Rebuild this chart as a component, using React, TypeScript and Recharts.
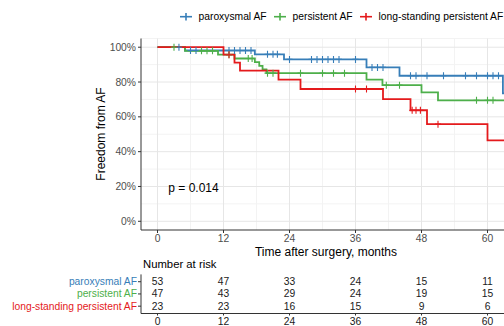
import React from "react";
import { ComposedChart, Line, Scatter, XAxis, YAxis, CartesianGrid } from "recharts";

const groups = ["paroxysmal AF", "persistent AF", "long-standing persistent AF"];
const colors = ["#377EB8", "#4DAF4A", "#E41A1C"];

// Kaplan-Meier steps (months, % free from AF)
const parTimes = [0, 5, 17.7, 23, 38, 44, 62.8, 63];
const parSurv = [100, 98.1, 95.9, 93.0, 88.4, 83.6, 73.5, 73.5];
const parCensored = [3.9, 6, 7, 13, 14, 15, 16, 17, 20, 21, 21.8, 24, 28, 29, 30, 31, 32, 33, 36, 39, 40, 41, 46, 47, 49, 52, 56, 58, 60, 61, 62];

const perTimes = [0, 5, 11, 14, 17.7, 18.5, 19.1, 19.8, 38, 40.9, 48, 51, 63];
const perSurv = [100, 97.9, 95.7, 93.5, 91.4, 89.3, 87.2, 85.1, 81.4, 78.2, 74.0, 69.5, 69.5];
const perCensored = [3, 8, 9, 10, 13, 16.5, 17.2, 20, 21, 26, 30, 32, 34, 41.6, 44, 58, 60, 61];

const lspTimes = [0, 12, 14, 15, 22, 26, 41, 46, 49, 60, 63];
const lspSurv = [100, 95.7, 91.1, 86.5, 81.4, 76.0, 70.2, 63.8, 55.8, 46.5, 46.5];
const lspCensored = [13, 36, 38, 46.3, 47, 47.8, 51];

// number at risk
const riskTimes = [0, 12, 24, 36, 48, 60];
const parRisk = [53, 47, 33, 24, 15, 11];
const perRisk = [47, 43, 29, 24, 19, 15];
const lspRisk = [23, 23, 16, 15, 9, 6];

const xTicks = [0, 12, 24, 36, 48, 60];
const yTicks = [0, 20, 40, 60, 80, 100];
const pValue = "p = 0.014";

const FONT = "'Liberation Sans', Arial, Helvetica, sans-serif";
const AXIS = "#333333";
const TICK_TXT = "#4d4d4d";

const stepAt = (times: number[], surv: number[], t: number) => {
  let v = surv[0];
  for (let i = 0; i < times.length; i++) if (times[i] <= t) v = surv[i];
  return v;
};
const km = (times: number[], surv: number[]) => times.map((t, i) => ({ t, s: surv[i] }));
const cens = (times: number[], surv: number[], c: number[]) =>
  c.map((t) => ({ t, s: stepAt(times, surv, t) }));

const series = [
  { name: groups[0], color: colors[0], line: km(parTimes, parSurv), marks: cens(parTimes, parSurv, parCensored) },
  { name: groups[1], color: colors[1], line: km(perTimes, perSurv), marks: cens(perTimes, perSurv, perCensored) },
  { name: groups[2], color: colors[2], line: km(lspTimes, lspSurv), marks: cens(lspTimes, lspSurv, lspCensored) },
];

const riskRows = [parRisk, perRisk, lspRisk];
const riskData = riskRows.flatMap((row, r) => row.map((n, i) => ({ t: riskTimes[i], row: r + 1, n })));

const plus = (color: string) => (props: any) => {
  const { cx, cy } = props;
  if (cx == null || cy == null) return <g />;
  return (
    <g stroke={color} strokeWidth={1.1}>
      <line x1={cx} x2={cx} y1={cy - 3.5} y2={cy + 3.5} />
      <line x1={cx - 3} x2={cx + 3} y1={cy} y2={cy} />
    </g>
  );
};

const RiskNumber = (props: any) => {
  const { cx, cy, payload } = props;
  return (
    <text x={cx} y={cy} textAnchor="middle" dominantBaseline="central" fontSize={10.3} fill="#1a1a1a" fontFamily={FONT}>
      {payload.n}
    </text>
  );
};

const RiskLabel = (props: any) => {
  const { x, y, payload } = props;
  const i = payload.value - 1;
  return (
    <text x={x} y={y} textAnchor="end" dominantBaseline="central" fontSize={10.3} fill={colors[i]} fontFamily={FONT}>
      {groups[i]}
    </text>
  );
};

export default function App() {
  const tickStyle = { fontSize: 10.3, fill: TICK_TXT, fontFamily: FONT };
  const legendX = [180, 274, 360];
  return (
    <div style={{ position: "absolute", left: 0, top: 0, width: 504, height: 326, background: "#fff", overflow: "hidden" }}>
      <div style={{ position: "absolute", left: 0, top: 0 }}>
        <ComposedChart width={504} height={250} margin={{ top: 38.5, right: 0, bottom: 0, left: 0 }}>
          <CartesianGrid stroke="#f3f3f3" verticalValues={[6, 18, 30, 42, 54]} horizontalValues={[10, 30, 50, 70, 90, 105]} />
          <CartesianGrid stroke="#e6e6e6" verticalValues={xTicks} horizontalValues={yTicks} />
          <XAxis
            dataKey="t"
            type="number"
            domain={[-3, 63]}
            allowDataOverflow
            ticks={xTicks}
            interval={0}
            height={20}
            tickSize={3}
            tickMargin={2}
            tick={tickStyle}
            axisLine={{ stroke: AXIS }}
            tickLine={{ stroke: AXIS }}
          />
          <YAxis
            type="number"
            domain={[-5, 105]}
            allowDataOverflow
            ticks={yTicks}
            interval={0}
            width={141}
            tickSize={3}
            tickMargin={2}
            tick={tickStyle}
            tickFormatter={(v) => `${v}%`}
            axisLine={{ stroke: AXIS }}
            tickLine={{ stroke: AXIS }}
          />
          {series.map((s) => (
            <Line
              key={s.name}
              data={s.line}
              dataKey="s"
              type="stepAfter"
              stroke={s.color}
              strokeWidth={1.8}
              dot={false}
              activeDot={false}
              isAnimationActive={false}
            />
          ))}
          {series.map((s) => (
            <Scatter key={s.name + "-c"} data={s.marks} dataKey="s" shape={plus(s.color)} isAnimationActive={false} />
          ))}
        </ComposedChart>
      </div>

      <div style={{ position: "absolute", left: 0, top: 260 }}>
        <ComposedChart width={504} height={66} margin={{ top: 14.4, right: 0, bottom: 0, left: 0 }}>
          <XAxis
            dataKey="t"
            type="number"
            domain={[-3, 63]}
            ticks={xTicks}
            interval={0}
            height={12.5}
            tickSize={2}
            tickMargin={2}
            tick={{ ...tickStyle, fill: "#1a1a1a" }}
            axisLine={{ stroke: AXIS }}
            tickLine={{ stroke: AXIS }}
          />
          <YAxis
            type="number"
            domain={[0.4, 3.6]}
            reversed
            ticks={[1, 2, 3]}
            interval={0}
            width={141}
            tickSize={3}
            tickMargin={1}
            tick={RiskLabel}
            axisLine={{ stroke: AXIS }}
            tickLine={{ stroke: AXIS }}
          />
          <Scatter data={riskData} dataKey="row" shape={RiskNumber} isAnimationActive={false} />
        </ComposedChart>
      </div>

      <svg width={504} height={326} style={{ position: "absolute", left: 0, top: 0, pointerEvents: "none" }} fontFamily={FONT}>
        {series.map((s, i) => (
          <g key={s.name}>
            <g stroke={s.color} strokeWidth={1.6}>
              <line x1={legendX[i]} x2={legendX[i] + 12} y1={16.7} y2={16.7} />
              <line x1={legendX[i] + 6} x2={legendX[i] + 6} y1={13} y2={20.4} />
            </g>
            <text x={legendX[i] + 18.5} y={16.7} dominantBaseline="central" fontSize={10.3} fill="#000">
              {s.name}
            </text>
          </g>
        ))}
        <text x={326} y={252} textAnchor="middle" dominantBaseline="central" fontSize={12} fill="#000">
          Time after surgery, months
        </text>
        <text x={101} y={134} textAnchor="middle" dominantBaseline="central" fontSize={12} fill="#000" transform="rotate(-90 101 134)">
          Freedom from AF
        </text>
        <text x={168.3} y={188} dominantBaseline="central" fontSize={12} fill="#000">
          {pValue}
        </text>
        <text x={143} y={263.5} dominantBaseline="central" fontSize={11.3} fill="#000">
          Number at risk
        </text>
      </svg>
    </div>
  );
}
